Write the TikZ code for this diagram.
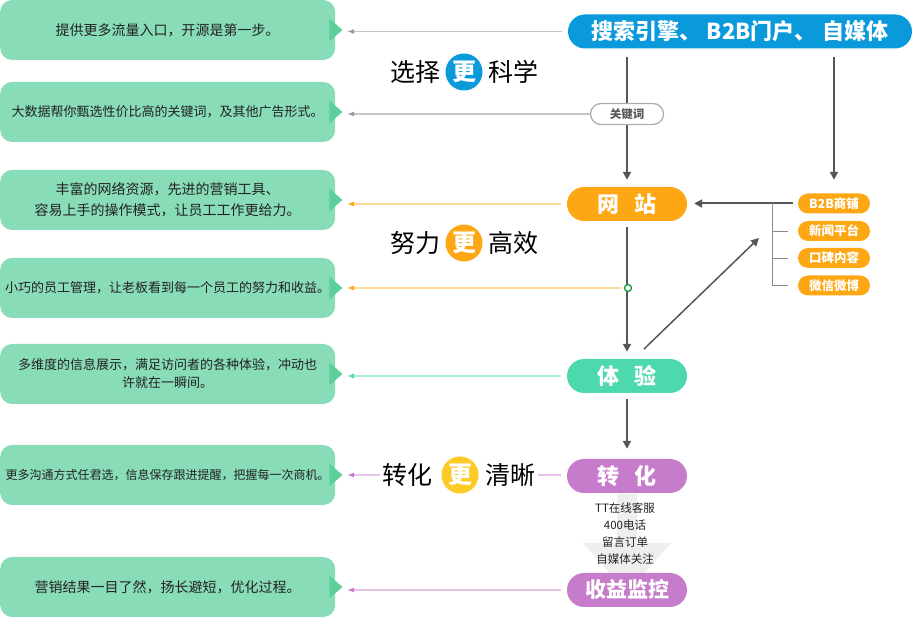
\documentclass[tikz,border=0pt]{standalone}
\usepackage{fontspec}
\setmainfont{Noto Sans CJK SC}
\usetikzlibrary{arrows.meta}
\definecolor{cblue}{HTML}{0A9ADC}
\definecolor{corange}{HTML}{FCA713}
\definecolor{cteal}{HTML}{4DD8AE}
\definecolor{cpurple}{HTML}{C67BCB}
\definecolor{cyellow}{HTML}{FDCB26}
\definecolor{cgreen}{HTML}{88DCB7}
\definecolor{cgtri}{HTML}{5CCF9A}
\definecolor{clgray}{HTML}{C6C6C6}
\definecolor{cdgray}{HTML}{9A9A9A}
\definecolor{clorange}{HTML}{FDD99B}
\definecolor{clteal}{HTML}{A8EED9}
\definecolor{clpurple}{HTML}{E6C1E9}
\definecolor{cmain}{HTML}{565656}
\definecolor{cdot}{HTML}{1E9E4E}
\definecolor{cbrk}{HTML}{8A8A8A}
\definecolor{cdark}{HTML}{222222}
\definecolor{cbig}{HTML}{EEEEEE}
\begin{document}
\begin{tikzpicture}[x=1pt,y=-1pt,
  gbox/.style={fill=cgreen, rounded corners=12pt, minimum width=335pt, minimum height=60pt,
    inner sep=0pt, anchor=west, align=center, text=cdark, font=\fontsize{14}{20}\selectfont},
  pillbox/.style={rounded corners=17pt, minimum width=120pt, minimum height=34pt, inner sep=0pt,
    text=white, font=\fontsize{22}{26}\selectfont\bfseries},
  spill/.style={rounded corners=10pt, minimum width=72pt, minimum height=20pt, inner sep=0pt,
    fill=corange, text=white, font=\fontsize{12.5}{14}\selectfont\bfseries},
  kwbox/.style={rounded corners=10.5pt, minimum width=73pt, minimum height=21pt, inner sep=0pt,
    fill=white, draw=cdgray!80, line width=1.3pt, text=cmain, font=\fontsize{11.5}{13}\selectfont\bfseries},
  ttl/.style={font=\fontsize{25}{28}\selectfont, inner sep=0pt, text=black},
  geng/.style={circle, minimum size=37pt, inner sep=0pt, text=white, font=\fontsize{24}{26}\selectfont\bfseries},
  lk/.style={line width=1.3pt, shorten <=6pt},
  mainarr/.style={draw=cmain, line width=2pt, -{Triangle[length=8pt,width=8pt]}},
  brk/.style={draw=cbrk, line width=0.9pt}
]
\useasboundingbox (0,0) rectangle (914,617);

% left green boxes
\node[gbox] (g1) at (0,30) {提供更多流量入口，开源是第一步。};
\node[gbox, font=\fontsize{13}{20}\selectfont] (g2) at (0,112) {大数据帮你甄选性价比高的关键词，及其他广告形式。};
\node[gbox, font=\fontsize{14}{21}\selectfont] (g3) at (0,200) {丰富的网络资源，先进的营销工具、\\容易上手的操作模式，让员工工作更给力。};
\node[gbox, font=\fontsize{13}{20}\selectfont] (g4) at (0,288) {小巧的员工管理，让老板看到每一个员工的努力和收益。};
\node[gbox, font=\fontsize{13}{18}\selectfont] (g5) at (0,374) {多维度的信息展示，满足访问者的各种体验，冲动也\\许就在一瞬间。};
\node[gbox, font=\fontsize{12}{18}\selectfont] (g6) at (0,475) {更多沟通方式任君选，信息保存跟进提醒，把握每一次商机。};
\node[gbox] (g7) at (0,587) {营销结果一目了然，扬长避短，优化过程。};
\foreach \n in {g1,g2,g3,g4,g5,g6,g7}
  \fill[cgtri] ([xshift=-6pt]\n.east) ++(0,-11.5) -- ++(13,11.5) -- ++(-13,11.5) -- cycle;

% right column nodes
\node[pillbox, fill=cblue, minimum width=344pt, minimum height=34pt] (search) at (740,31.5) {搜索引擎、 B2B门户、 自媒体};
\node[pillbox, fill=corange] (wz) at (627,204) {网\hspace{0.65em}站};
\node[pillbox, fill=cteal] (ty) at (627,376) {体\hspace{0.65em}验};
\node[pillbox, fill=cpurple] (zh) at (627,476) {转\hspace{0.65em}化};

\node[spill] (p1) at (834,203.5) {B2B商铺};
\node[spill] (p2) at (834,231) {新闻平台};
\node[spill] (p3) at (834,258) {口碑内容};
\node[spill] (p4) at (834,285.5) {微信微博};

% big light arrow under 转化
\fill[cbig] (617,494) -- (637,494) -- (637,543) -- (671,543) -- (627,592) -- (583,543) -- (617,543) -- cycle;
\node[pillbox, fill=cpurple, font=\fontsize{21}{24}\selectfont\bfseries] (sy) at (627,590) {收益监控};
\node[align=center, text=cdark, inner sep=0pt, font=\fontsize{11.5}{17}\selectfont] (list) at (625,533.5) {TT在线客服\\400电话\\留言订单\\自媒体关注};

% main arrows
\draw[mainarr, shorten <=8pt, shorten >=7pt] (search.south -| wz.north) -- (wz.north);
\draw[mainarr, shorten <=8pt, shorten >=13.5pt] (search.south -| p1.north) -- (p1.north);
\draw[mainarr, shorten <=5pt, shorten >=7pt] (p1.west) -- (p1.west -| wz.east);
\coordinate (bx) at (772,0);
\draw[brk] (p1.west -| bx) -- (p4.west -| bx);
\draw[brk, shorten >=10pt] (p2.west -| bx) -- (p2.west);
\draw[brk, shorten >=10pt] (p3.west -| bx) -- (p3.west);
\draw[brk, shorten >=10pt] (p4.west -| bx) -- (p4.west);
\draw[mainarr, shorten <=6pt, shorten >=7pt] (wz.south) -- (ty.north);
\coordinate (d1) at (644,349);
\coordinate (d2) at (759,238);
\draw[mainarr, line width=1.5pt] (d1) -- (d2);
\draw[mainarr, shorten <=6pt, shorten >=10pt] (ty.south) -- (zh.north);

\node[kwbox] (kw) at (627,114) {关键词};
\node[circle, draw=cdot, fill=white, line width=1.4pt, minimum size=7pt, inner sep=0pt] (dot) at (628,288) {};

% titles
\node[ttl, anchor=east] (a1) at (441,72) {选择};
\node[geng, fill=cblue] (a2) at (464,72) {更};
\node[ttl, anchor=west] (a3) at (488,72) {科学};
\node[ttl, anchor=east] (b1) at (441,243) {努力};
\node[geng, fill=corange] (b2) at (464,243) {更};
\node[ttl, anchor=west] (b3) at (488,243) {高效};
\node[ttl, anchor=east] (c1) at (433,475) {转化};
\node[geng, fill=cyellow] (c2) at (460,475) {更};
\node[ttl, anchor=west] (c3) at (485,475) {清晰};

% left links
\coordinate (L) at (347,0);
\draw[lk, draw=clgray, -{Latex[length=7pt,width=5pt,color=cdgray]}] (search.west) -- (search.west -| L);
\draw[lk, draw=clgray, -{Latex[length=7pt,width=5pt,color=cdgray]}, shorten <=0pt] (kw.west) -- (kw.west -| L);
\draw[lk, draw=clorange, -{Latex[length=7pt,width=5pt,color=corange]}] (wz.west) -- (wz.west -| L);
\draw[lk, draw=clorange, -{Latex[length=7pt,width=5pt,color=corange]}, shorten <=3pt] (dot.west) -- (dot.west -| L);
\draw[lk, draw=clteal, -{Latex[length=7pt,width=5pt,color=cteal]}] (ty.west) -- (ty.west -| L);
\draw[lk, draw=clpurple, shorten >=3pt] (zh.west |- c3.east) -- (c3.east);
\draw[lk, draw=clpurple, -{Latex[length=7pt,width=5pt,color=cpurple]}, shorten <=3pt] (c1.west) -- (c1.west -| L);
\draw[lk, draw=clpurple, -{Latex[length=7pt,width=5pt,color=cpurple]}] (sy.west) -- (sy.west -| L);
\end{tikzpicture}
\end{document}
